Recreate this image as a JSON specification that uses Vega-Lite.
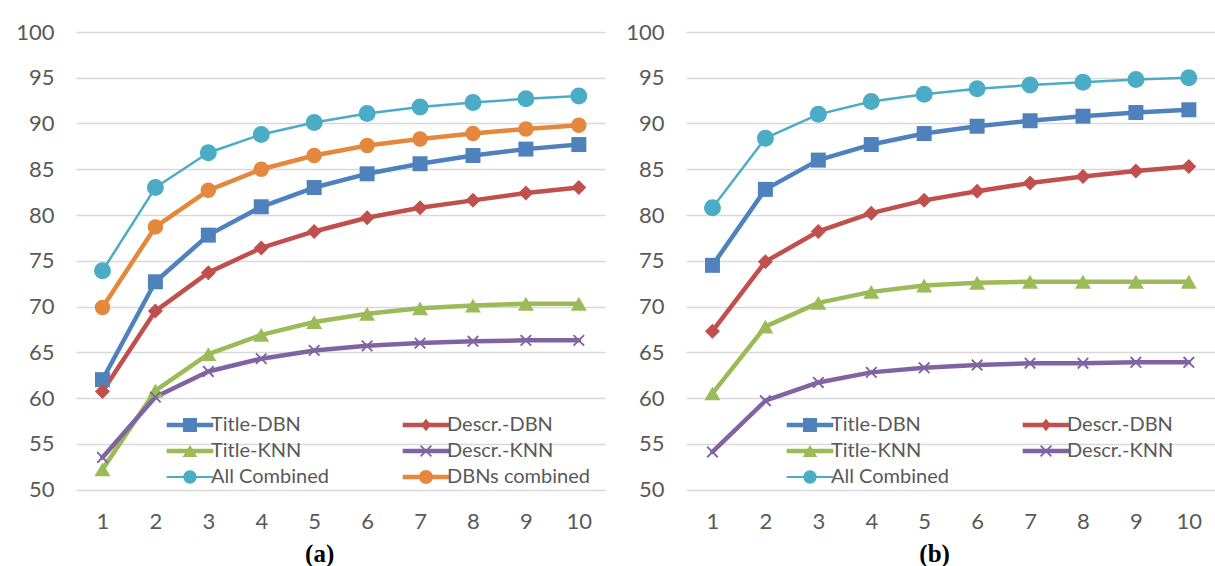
{
  "$schema": "https://vega.github.io/schema/vega-lite/v6.json",
  "padding": {"left": 15, "top": 21, "right": 0, "bottom": 0},
  "background": "white",
  "config": {
    "view": {"stroke": null},
    "axis": {"labelFont": "Lato", "labelFontSize": 22, "labelColor": "#595959", "ticks": false, "domain": false, "title": null, "gridColor": "#D9D9D9", "gridWidth": 1.3}
  },
  "bounds": "flush",
  "spacing": 80,
  "datasets": {
    "d": [
      {"p":"a","s":"Title-DBN","x":1,"y":62.0},{"p":"a","s":"Title-DBN","x":2,"y":72.7},{"p":"a","s":"Title-DBN","x":3,"y":77.8},{"p":"a","s":"Title-DBN","x":4,"y":80.9},{"p":"a","s":"Title-DBN","x":5,"y":83.0},{"p":"a","s":"Title-DBN","x":6,"y":84.5},{"p":"a","s":"Title-DBN","x":7,"y":85.6},{"p":"a","s":"Title-DBN","x":8,"y":86.5},{"p":"a","s":"Title-DBN","x":9,"y":87.2},{"p":"a","s":"Title-DBN","x":10,"y":87.7},
      {"p":"a","s":"Descr.-DBN","x":1,"y":60.7},{"p":"a","s":"Descr.-DBN","x":2,"y":69.5},{"p":"a","s":"Descr.-DBN","x":3,"y":73.7},{"p":"a","s":"Descr.-DBN","x":4,"y":76.4},{"p":"a","s":"Descr.-DBN","x":5,"y":78.2},{"p":"a","s":"Descr.-DBN","x":6,"y":79.7},{"p":"a","s":"Descr.-DBN","x":7,"y":80.8},{"p":"a","s":"Descr.-DBN","x":8,"y":81.6},{"p":"a","s":"Descr.-DBN","x":9,"y":82.4},{"p":"a","s":"Descr.-DBN","x":10,"y":83.0},
      {"p":"a","s":"Title-KNN","x":1,"y":52.2},{"p":"a","s":"Title-KNN","x":2,"y":60.8},{"p":"a","s":"Title-KNN","x":3,"y":64.8},{"p":"a","s":"Title-KNN","x":4,"y":66.9},{"p":"a","s":"Title-KNN","x":5,"y":68.3},{"p":"a","s":"Title-KNN","x":6,"y":69.2},{"p":"a","s":"Title-KNN","x":7,"y":69.8},{"p":"a","s":"Title-KNN","x":8,"y":70.1},{"p":"a","s":"Title-KNN","x":9,"y":70.3},{"p":"a","s":"Title-KNN","x":10,"y":70.3},
      {"p":"a","s":"Descr.-KNN","x":1,"y":53.5},{"p":"a","s":"Descr.-KNN","x":2,"y":60.1},{"p":"a","s":"Descr.-KNN","x":3,"y":62.9},{"p":"a","s":"Descr.-KNN","x":4,"y":64.3},{"p":"a","s":"Descr.-KNN","x":5,"y":65.2},{"p":"a","s":"Descr.-KNN","x":6,"y":65.7},{"p":"a","s":"Descr.-KNN","x":7,"y":66.0},{"p":"a","s":"Descr.-KNN","x":8,"y":66.2},{"p":"a","s":"Descr.-KNN","x":9,"y":66.3},{"p":"a","s":"Descr.-KNN","x":10,"y":66.3},
      {"p":"a","s":"All Combined","x":1,"y":73.9},{"p":"a","s":"All Combined","x":2,"y":83.0},{"p":"a","s":"All Combined","x":3,"y":86.8},{"p":"a","s":"All Combined","x":4,"y":88.8},{"p":"a","s":"All Combined","x":5,"y":90.1},{"p":"a","s":"All Combined","x":6,"y":91.1},{"p":"a","s":"All Combined","x":7,"y":91.8},{"p":"a","s":"All Combined","x":8,"y":92.3},{"p":"a","s":"All Combined","x":9,"y":92.7},{"p":"a","s":"All Combined","x":10,"y":93.0},
      {"p":"a","s":"DBNs combined","x":1,"y":69.9},{"p":"a","s":"DBNs combined","x":2,"y":78.7},{"p":"a","s":"DBNs combined","x":3,"y":82.7},{"p":"a","s":"DBNs combined","x":4,"y":85.0},{"p":"a","s":"DBNs combined","x":5,"y":86.5},{"p":"a","s":"DBNs combined","x":6,"y":87.6},{"p":"a","s":"DBNs combined","x":7,"y":88.3},{"p":"a","s":"DBNs combined","x":8,"y":88.9},{"p":"a","s":"DBNs combined","x":9,"y":89.4},{"p":"a","s":"DBNs combined","x":10,"y":89.8},
      {"p":"b","s":"Title-DBN","x":1,"y":74.5},{"p":"b","s":"Title-DBN","x":2,"y":82.8},{"p":"b","s":"Title-DBN","x":3,"y":86.0},{"p":"b","s":"Title-DBN","x":4,"y":87.7},{"p":"b","s":"Title-DBN","x":5,"y":88.9},{"p":"b","s":"Title-DBN","x":6,"y":89.7},{"p":"b","s":"Title-DBN","x":7,"y":90.3},{"p":"b","s":"Title-DBN","x":8,"y":90.8},{"p":"b","s":"Title-DBN","x":9,"y":91.2},{"p":"b","s":"Title-DBN","x":10,"y":91.5},
      {"p":"b","s":"Descr.-DBN","x":1,"y":67.3},{"p":"b","s":"Descr.-DBN","x":2,"y":74.9},{"p":"b","s":"Descr.-DBN","x":3,"y":78.2},{"p":"b","s":"Descr.-DBN","x":4,"y":80.2},{"p":"b","s":"Descr.-DBN","x":5,"y":81.6},{"p":"b","s":"Descr.-DBN","x":6,"y":82.6},{"p":"b","s":"Descr.-DBN","x":7,"y":83.5},{"p":"b","s":"Descr.-DBN","x":8,"y":84.2},{"p":"b","s":"Descr.-DBN","x":9,"y":84.8},{"p":"b","s":"Descr.-DBN","x":10,"y":85.3},
      {"p":"b","s":"Title-KNN","x":1,"y":60.5},{"p":"b","s":"Title-KNN","x":2,"y":67.8},{"p":"b","s":"Title-KNN","x":3,"y":70.4},{"p":"b","s":"Title-KNN","x":4,"y":71.6},{"p":"b","s":"Title-KNN","x":5,"y":72.3},{"p":"b","s":"Title-KNN","x":6,"y":72.6},{"p":"b","s":"Title-KNN","x":7,"y":72.7},{"p":"b","s":"Title-KNN","x":8,"y":72.7},{"p":"b","s":"Title-KNN","x":9,"y":72.7},{"p":"b","s":"Title-KNN","x":10,"y":72.7},
      {"p":"b","s":"Descr.-KNN","x":1,"y":54.1},{"p":"b","s":"Descr.-KNN","x":2,"y":59.7},{"p":"b","s":"Descr.-KNN","x":3,"y":61.7},{"p":"b","s":"Descr.-KNN","x":4,"y":62.8},{"p":"b","s":"Descr.-KNN","x":5,"y":63.3},{"p":"b","s":"Descr.-KNN","x":6,"y":63.6},{"p":"b","s":"Descr.-KNN","x":7,"y":63.8},{"p":"b","s":"Descr.-KNN","x":8,"y":63.8},{"p":"b","s":"Descr.-KNN","x":9,"y":63.9},{"p":"b","s":"Descr.-KNN","x":10,"y":63.9},
      {"p":"b","s":"All Combined","x":1,"y":80.8},{"p":"b","s":"All Combined","x":2,"y":88.4},{"p":"b","s":"All Combined","x":3,"y":91.0},{"p":"b","s":"All Combined","x":4,"y":92.4},{"p":"b","s":"All Combined","x":5,"y":93.2},{"p":"b","s":"All Combined","x":6,"y":93.8},{"p":"b","s":"All Combined","x":7,"y":94.2},{"p":"b","s":"All Combined","x":8,"y":94.5},{"p":"b","s":"All Combined","x":9,"y":94.8},{"p":"b","s":"All Combined","x":10,"y":95.0}
    ]
  },
  "resolve": {"scale": {"color": "independent"}},
  "hconcat": [
    {
      "width": 529.3,
      "height": 457.5,
      "title": {"text": "(a)", "orient": "bottom", "font": "Liberation Serif", "fontSize": 25, "fontWeight": "bold", "color": "#000000", "offset": 9, "dx": -21},
      "data": {"name": "d"},
      "transform": [{"filter": "datum.p === 'a'"}],
      "encoding": {
        "x": {"field": "x", "type": "ordinal", "scale": {"type": "point", "padding": 0.5}, "axis": {"labelAngle": 0, "labelPadding": 22, "grid": false}},
        "y": {"field": "y", "type": "quantitative", "scale": {"domain": [50, 100], "nice": false, "zero": false}, "axis": {"values": [50, 55, 60, 65, 70, 75, 80, 85, 90, 95, 100], "labelPadding": 22, "grid": true}}
      },
      "layer": [
        {
          "transform": [{"filter": "datum.s !== 'All Combined'"}],
          "mark": {"type": "line", "strokeWidth": 4.5, "strokeJoin": "round", "strokeCap": "round"},
          "encoding": {
            "color": {
              "field": "s", "type": "nominal",
              "scale": {"domain": ["Title-DBN", "Title-KNN", "All Combined", "Descr.-DBN", "Descr.-KNN", "DBNs combined"], "range": ["#4F81BD", "#9BBB59", "#4BACC6", "#C0504D", "#8064A2", "#E3883D"]},
              "legend": {
                "orient": "none", "legendX": 88, "legendY": 383, "columns": 2, "title": null, "padding": 0,
                "symbolSize": 196, "symbolOffset": 16, "labelOffset": 11, "symbolStrokeWidth": 0,
                "labelFont": "Lato", "labelFontSize": 20, "labelColor": "#595959", "rowPadding": 6, "columnPadding": 71,
                "encode": {"symbols": {"update": {
                  "shape": {"signal": "datum.value==='Title-DBN'?'M-3.33,-0.31H3.33V0.31H-3.33ZM-1,-1H1V1H-1Z':datum.value==='Descr.-DBN'?'M-3.33,-0.31H3.33V0.31H-3.33ZM0,-0.9L0.72,0L0,0.9L-0.72,0Z':datum.value==='Title-KNN'?'M-3.33,-0.31H3.33V0.31H-3.33ZM0,-0.84L1.05,0.84H-1.05Z':datum.value==='Descr.-KNN'?'M-3.33,-0.31H3.33V0.31H-3.33ZM-0.86,-0.68L-0.68,-0.86L0.86,0.68L0.68,0.86ZM-0.86,0.68L0.68,-0.86L0.86,-0.68L-0.68,0.86Z':datum.value==='All Combined'?'M-3.33,-0.16H3.33V0.16H-3.33ZM-0.95,0A0.95,0.95 0 1,1 0.95,0A0.95,0.95 0 1,1 -0.95,0Z':'M-3.33,-0.31H3.33V0.31H-3.33ZM-1,0A1,1 0 1,1 1,0A1,1 0 1,1 -1,0Z'"},
                  "fill": {"signal": "datum.value==='Title-DBN'?'#4F81BD':datum.value==='Descr.-DBN'?'#C0504D':datum.value==='Title-KNN'?'#9BBB59':datum.value==='Descr.-KNN'?'#8064A2':datum.value==='All Combined'?'#4BACC6':'#E3883D'"},
                  "fillOpacity": {"value": 1},
                  "strokeWidth": {"value": 0},
                  "opacity": {"value": 1}
                }}}
              }
            }
          }
        },
        {"transform": [{"filter": "datum.s === 'Title-DBN'"}], "mark": {"type": "point", "filled": true, "opacity": 1, "shape": "square", "size": 225, "color": "#4F81BD"}},
        {"transform": [{"filter": "datum.s === 'Descr.-DBN'"}], "mark": {"type": "point", "filled": true, "opacity": 1, "shape": "diamond", "size": 225, "color": "#C0504D"}},
        {"transform": [{"filter": "datum.s === 'Title-KNN'"}], "mark": {"type": "point", "filled": true, "opacity": 1, "shape": "triangle-up", "size": 256, "color": "#9BBB59"}},
        {"transform": [{"filter": "datum.s === 'Descr.-KNN'"}], "mark": {"type": "point", "filled": true, "opacity": 1, "shape": "M-0.85,-0.66L-0.66,-0.85L0.85,0.66L0.66,0.85ZM-0.85,0.66L0.66,-0.85L0.85,-0.66L-0.66,0.85Z", "size": 196, "color": "#8064A2"}},
        {
          "transform": [{"filter": "datum.s === 'All Combined'"}],
          "mark": {"type": "line", "strokeWidth": 2.5, "strokeJoin": "round", "strokeCap": "round"},
          "encoding": {"color": {"field": "s", "type": "nominal"}}
        },
        {"transform": [{"filter": "datum.s === 'All Combined'"}], "mark": {"type": "point", "filled": true, "opacity": 1, "shape": "circle", "size": 289, "color": "#4BACC6"}},
        {"transform": [{"filter": "datum.s === 'DBNs combined'"}], "mark": {"type": "point", "filled": true, "opacity": 1, "shape": "circle", "size": 240, "color": "#E3883D"}}
      ]
    },
    {
      "width": 529.3,
      "height": 457.5,
      "title": {"text": "(b)", "orient": "bottom", "font": "Liberation Serif", "fontSize": 25, "fontWeight": "bold", "color": "#000000", "offset": 9, "dx": -16},
      "data": {"name": "d"},
      "transform": [{"filter": "datum.p === 'b'"}],
      "encoding": {
        "x": {"field": "x", "type": "ordinal", "scale": {"type": "point", "padding": 0.5}, "axis": {"labelAngle": 0, "labelPadding": 22, "grid": false}},
        "y": {"field": "y", "type": "quantitative", "scale": {"domain": [50, 100], "nice": false, "zero": false}, "axis": {"values": [50, 55, 60, 65, 70, 75, 80, 85, 90, 95, 100], "labelPadding": 22, "grid": true}}
      },
      "layer": [
        {
          "transform": [{"filter": "datum.s !== 'All Combined'"}],
          "mark": {"type": "line", "strokeWidth": 4.5, "strokeJoin": "round", "strokeCap": "round"},
          "encoding": {
            "color": {
              "field": "s", "type": "nominal",
              "scale": {"domain": ["Title-DBN", "Title-KNN", "All Combined", "Descr.-DBN", "Descr.-KNN"], "range": ["#4F81BD", "#9BBB59", "#4BACC6", "#C0504D", "#8064A2"]},
              "legend": {
                "orient": "none", "legendX": 98, "legendY": 383, "columns": 2, "title": null, "padding": 0,
                "symbolSize": 196, "symbolOffset": 16, "labelOffset": 11, "symbolStrokeWidth": 0,
                "labelFont": "Lato", "labelFontSize": 20, "labelColor": "#595959", "rowPadding": 6, "columnPadding": 71,
                "encode": {"symbols": {"update": {
                  "shape": {"signal": "datum.value==='Title-DBN'?'M-3.33,-0.31H3.33V0.31H-3.33ZM-1,-1H1V1H-1Z':datum.value==='Descr.-DBN'?'M-3.33,-0.31H3.33V0.31H-3.33ZM0,-0.9L0.72,0L0,0.9L-0.72,0Z':datum.value==='Title-KNN'?'M-3.33,-0.31H3.33V0.31H-3.33ZM0,-0.84L1.05,0.84H-1.05Z':datum.value==='Descr.-KNN'?'M-3.33,-0.31H3.33V0.31H-3.33ZM-0.86,-0.68L-0.68,-0.86L0.86,0.68L0.68,0.86ZM-0.86,0.68L0.68,-0.86L0.86,-0.68L-0.68,0.86Z':'M-3.33,-0.16H3.33V0.16H-3.33ZM-0.95,0A0.95,0.95 0 1,1 0.95,0A0.95,0.95 0 1,1 -0.95,0Z'"},
                  "fill": {"signal": "datum.value==='Title-DBN'?'#4F81BD':datum.value==='Descr.-DBN'?'#C0504D':datum.value==='Title-KNN'?'#9BBB59':datum.value==='Descr.-KNN'?'#8064A2':'#4BACC6'"},
                  "fillOpacity": {"value": 1},
                  "strokeWidth": {"value": 0},
                  "opacity": {"value": 1}
                }}}
              }
            }
          }
        },
        {"transform": [{"filter": "datum.s === 'Title-DBN'"}], "mark": {"type": "point", "filled": true, "opacity": 1, "shape": "square", "size": 225, "color": "#4F81BD"}},
        {"transform": [{"filter": "datum.s === 'Descr.-DBN'"}], "mark": {"type": "point", "filled": true, "opacity": 1, "shape": "diamond", "size": 225, "color": "#C0504D"}},
        {"transform": [{"filter": "datum.s === 'Title-KNN'"}], "mark": {"type": "point", "filled": true, "opacity": 1, "shape": "triangle-up", "size": 256, "color": "#9BBB59"}},
        {"transform": [{"filter": "datum.s === 'Descr.-KNN'"}], "mark": {"type": "point", "filled": true, "opacity": 1, "shape": "M-0.85,-0.66L-0.66,-0.85L0.85,0.66L0.66,0.85ZM-0.85,0.66L0.66,-0.85L0.85,-0.66L-0.66,0.85Z", "size": 196, "color": "#8064A2"}},
        {
          "transform": [{"filter": "datum.s === 'All Combined'"}],
          "mark": {"type": "line", "strokeWidth": 2.5, "strokeJoin": "round", "strokeCap": "round"},
          "encoding": {"color": {"field": "s", "type": "nominal"}}
        },
        {"transform": [{"filter": "datum.s === 'All Combined'"}], "mark": {"type": "point", "filled": true, "opacity": 1, "shape": "circle", "size": 289, "color": "#4BACC6"}}
      ]
    }
  ]
}
